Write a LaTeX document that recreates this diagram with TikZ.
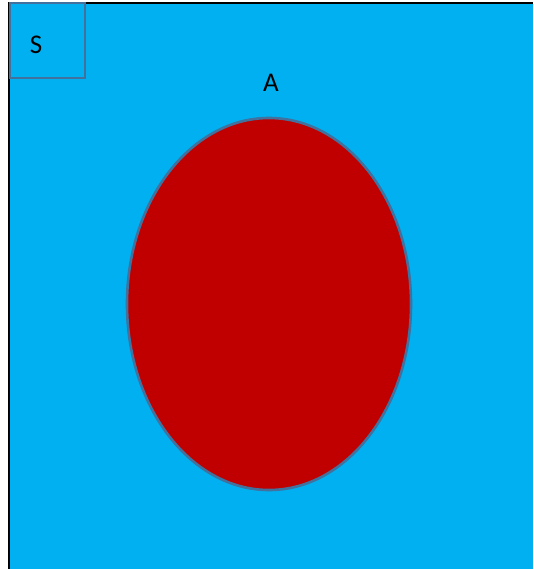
\documentclass[tikz,border=0pt]{standalone}
\usepackage{fontspec}
\setmainfont{Carlito}
\usetikzlibrary{shapes.geometric}
\definecolor{skyblue}{HTML}{00B0F0}
\definecolor{darkred}{HTML}{C00000}
\definecolor{edgeblue}{HTML}{41719C}
\begin{document}
\begin{tikzpicture}[x=1pt,y=-1pt,
  lbl/.style={font=\fontsize{27}{31}\selectfont, text=black, inner sep=0pt}]
\useasboundingbox (0,0) rectangle (533,569);
\fill[skyblue] (9,3) rectangle (533,569);
\draw[black, line width=2.4pt] (9,569) -- (9,3) -- (533,3);
\node[draw=edgeblue, line width=2.6pt, minimum width=75pt, minimum height=75pt, inner sep=0pt] (sbox) at (47.5,40.5) {};
\node[lbl] (s) at (36,45) {S};
\node[ellipse, draw=edgeblue, line width=2.6pt, fill=darkred, minimum width=284pt, minimum height=372pt, inner sep=0pt] (a) at (269,304) {};
\node[lbl] (alab) at (271,83) {A};
\end{tikzpicture}
\end{document}
